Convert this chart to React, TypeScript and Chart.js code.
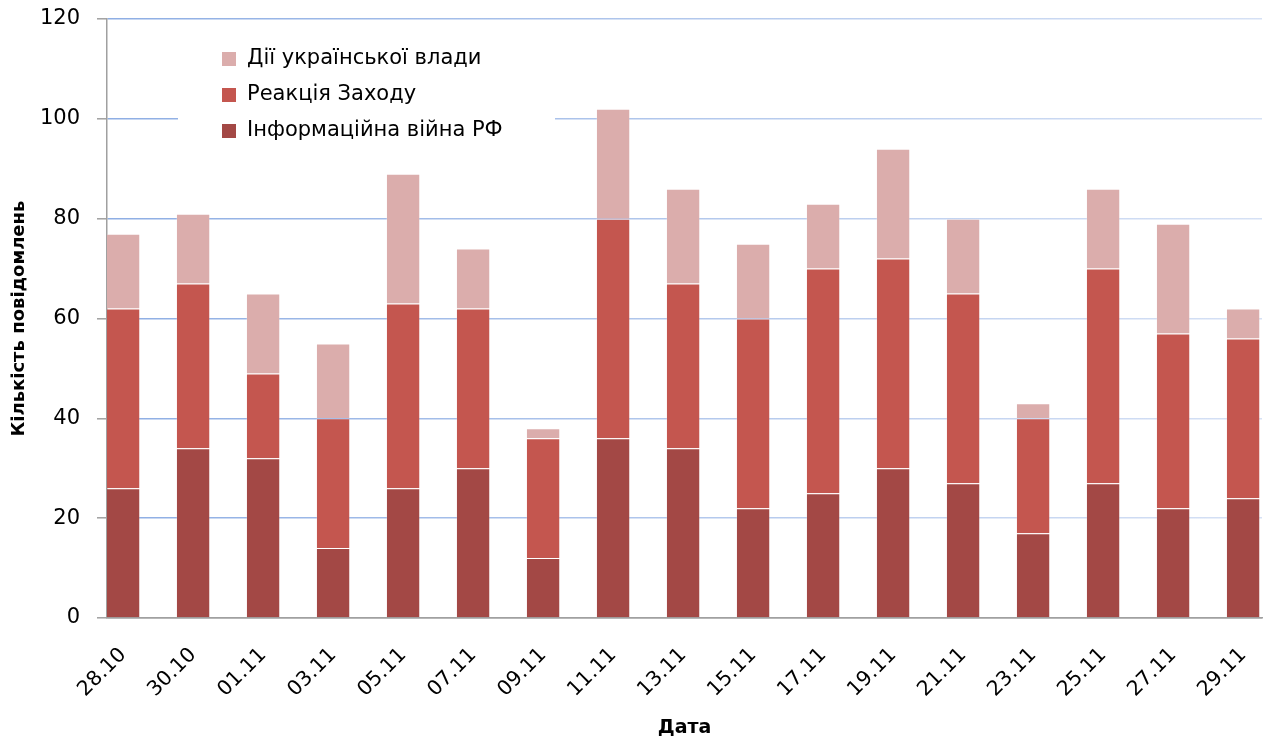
import React, { useEffect, useRef } from 'react';
import { Chart, registerables } from 'chart.js';

Chart.register(...registerables);

const categories = ['28.10', '30.10', '01.11', '03.11', '05.11', '07.11', '09.11', '11.11', '13.11', '15.11', '17.11', '19.11', '21.11', '23.11', '25.11', '27.11', '29.11'];
const infoWar = [26, 34, 32, 14, 26, 30, 12, 36, 34, 22, 25, 30, 27, 17, 27, 22, 24];
const westReaction = [36, 33, 17, 26, 37, 32, 24, 44, 33, 38, 45, 42, 38, 23, 43, 35, 32];
const ukraineActions = [15, 14, 16, 15, 26, 12, 2, 22, 19, 15, 13, 22, 15, 3, 16, 22, 6];
const seriesNames = ['Інформаційна війна РФ', 'Реакція Заходу', 'Дії української влади'];
const seriesColors = ['#A34845', '#C4564F', '#DBADAC'];
const yTitle = 'Кількість повідомлень';
const xTitle = 'Дата';

const FONT = '"DejaVu Sans", sans-serif';

const insideLegend = {
  id: 'insideLegend',
  beforeDatasetsDraw(chart: any) {
    const { ctx, chartArea } = chart;
    const L = chartArea.left;
    const T = chartArea.top;
    ctx.save();
    ctx.fillStyle = '#ffffff';
    ctx.fillRect(L + 71, T + 18, 377, 128);
    const ds = chart.data.datasets.slice().reverse();
    ds.forEach((d: any, i: number) => {
      const cy = T + 40 + i * 36;
      ctx.fillStyle = d.backgroundColor;
      ctx.fillRect(L + 115, cy - 7, 14, 14);
      ctx.fillStyle = '#000000';
      ctx.font = `21px ${FONT}`;
      ctx.textBaseline = 'middle';
      ctx.textAlign = 'left';
      ctx.fillText(d.label, L + 140, cy);
    });
    ctx.restore();
  },
};

const gridColor = (ctx: any) => {
  if (ctx.tick && ctx.tick.value === 0) return '#A0A0A0';
  const chart = ctx.chart;
  const a = chart.chartArea;
  if (!a) return '#A9C0E8';
  const g = chart.ctx.createLinearGradient(a.left, 0, a.right, 0);
  g.addColorStop(0, '#8EAEE4');
  g.addColorStop(1, '#D6E1F5');
  return g;
};

export default function App() {
  const ref = useRef<HTMLCanvasElement | null>(null);

  useEffect(() => {
    if (!ref.current) return;
    const toPoints = (arr: number[]) => arr.map((v, i) => ({ x: i, y: v }));
    const series = [infoWar, westReaction, ukraineActions];
    const chart = new Chart(ref.current, {
      type: 'bar',
      data: {
        datasets: series.map((s, k) => ({
          label: seriesNames[k],
          data: toPoints(s),
          backgroundColor: seriesColors[k],
          borderColor: 'rgba(255,255,255,0.2)',
          borderWidth: 1,
          categoryPercentage: 1,
          barPercentage: 0.49,
        })),
      },
      options: {
        animation: false,
        responsive: true,
        maintainAspectRatio: false,
        layout: { padding: { left: 9, right: 6, top: 19, bottom: 3 } },
        plugins: {
          legend: { display: false },
          tooltip: { enabled: false },
        },
        scales: {
          x: {
            type: 'linear',
            stacked: true,
            offset: false,
            min: -0.23,
            max: 16.27,
            afterFit: (scale: any) => {
              scale.height = 121;
              scale.paddingLeft = 0;
              scale.paddingRight = 0;
            },
            grid: { display: false, drawTicks: false },
            border: { display: true, color: '#A0A0A0', width: 1.5 },
            ticks: {
              stepSize: 1,
              includeBounds: false,
              autoSkip: false,
              maxTicksLimit: 40,
              minRotation: 45,
              maxRotation: 45,
              padding: 25,
              color: '#000',
              font: { family: FONT, size: 20.5 },
              callback: (v: any) => (Number.isInteger(v) ? categories[v] ?? '' : ''),
            },
            title: {
              display: true,
              text: xTitle,
              color: '#000',
              font: { family: FONT, size: 19, weight: 'bold' },
              padding: { top: 0, bottom: 0 },
            },
          },
          y: {
            stacked: true,
            min: 0,
            max: 120,
            afterFit: (scale: any) => {
              scale.paddingTop = 0;
              scale.paddingBottom = 0;
              scale.width = 98;
            },
            grid: {
              color: gridColor,
              lineWidth: 1.6,
              tickColor: '#A0A0A0',
              tickLength: 10,
              tickWidth: 1.5,
            },
            border: { display: true, color: '#A0A0A0', width: 1.5 },
            ticks: {
              stepSize: 20,
              padding: 17,
              color: '#000',
              font: { family: FONT, size: 21 },
            },
            title: {
              display: true,
              text: yTitle,
              color: '#000',
              font: { family: FONT, size: 18, weight: 'bold' },
              padding: { top: 0, bottom: 0 },
            },
          },
        },
      },
      plugins: [insideLegend],
    } as any);
    return () => chart.destroy();
  }, []);

  return (
    <div style={{ position: 'fixed', left: 0, top: 0, width: 1268, height: 742, background: '#fff' }}>
      <canvas ref={ref} />
    </div>
  );
}
